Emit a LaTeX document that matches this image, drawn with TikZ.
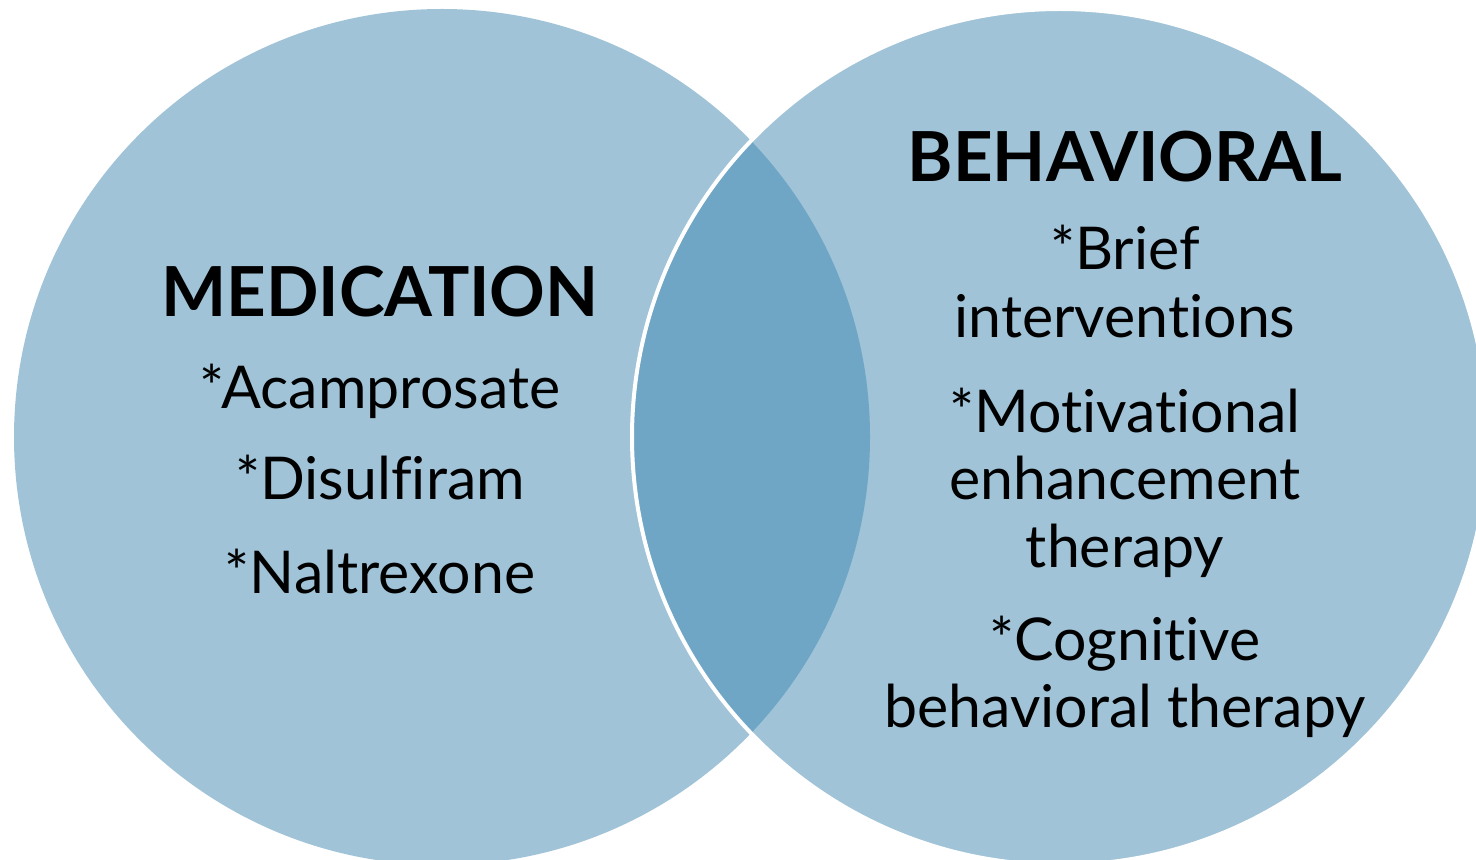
\documentclass[tikz,border=0pt]{standalone}
\usepackage{fontspec}
\setmainfont{Lato}[Ligatures=CommonOff]
\definecolor{ringfill}{RGB}{160,195,215}
\definecolor{overlapfill}{RGB}{111,165,197}
\begin{document}
\begin{tikzpicture}[x=0.5pt,y=-0.5pt,
  heading/.style={anchor=base,inner sep=0pt,font=\fontsize{34.5pt}{40pt}\selectfont\bfseries},
  item/.style={anchor=base,inner sep=0pt,font=\fontsize{29.5pt}{35pt}\selectfont}]
  \useasboundingbox (0,0) rectangle (1476,860);
  \clip (0,0) rectangle (1476,860);
  % the two sets
  \fill[ringfill] (442,437) circle[radius=214pt];
  \fill[ringfill] (1060,437) circle[radius=214pt];
  % their overlap
  \begin{scope}
    \clip (442,437) circle[radius=214pt];
    \fill[overlapfill] (1060,437) circle[radius=214pt];
  \end{scope}
  \draw[white,line width=2pt] (1060,437) circle[radius=214pt];

  % medication
  \node[heading] (med) at (380,317) {MEDICATION};
  \node[item] (acam) at (380,409) {*Acamprosate};
  \node[item] (disul) at (380,500) {*Disulfiram};
  \node[item] (nalt) at (380,593) {*Naltrexone};

  % behavioral
  \node[heading] (beh) at (1125,182) {BEHAVIORAL};
  \node[item] (brief1) at (1125,270) {*Brief};
  \node[item] (brief2) at (1125,338) {interventions};
  \node[item] (mot1) at (1125,433) {*Motivational};
  \node[item] (mot2) at (1125,500) {enhancement};
  \node[item] (mot3) at (1125,567) {therapy};
  \node[item] (cog1) at (1125,660) {*Cognitive};
  \node[item] (cog2) at (1125,727) {behavioral therapy};
\end{tikzpicture}
\end{document}
